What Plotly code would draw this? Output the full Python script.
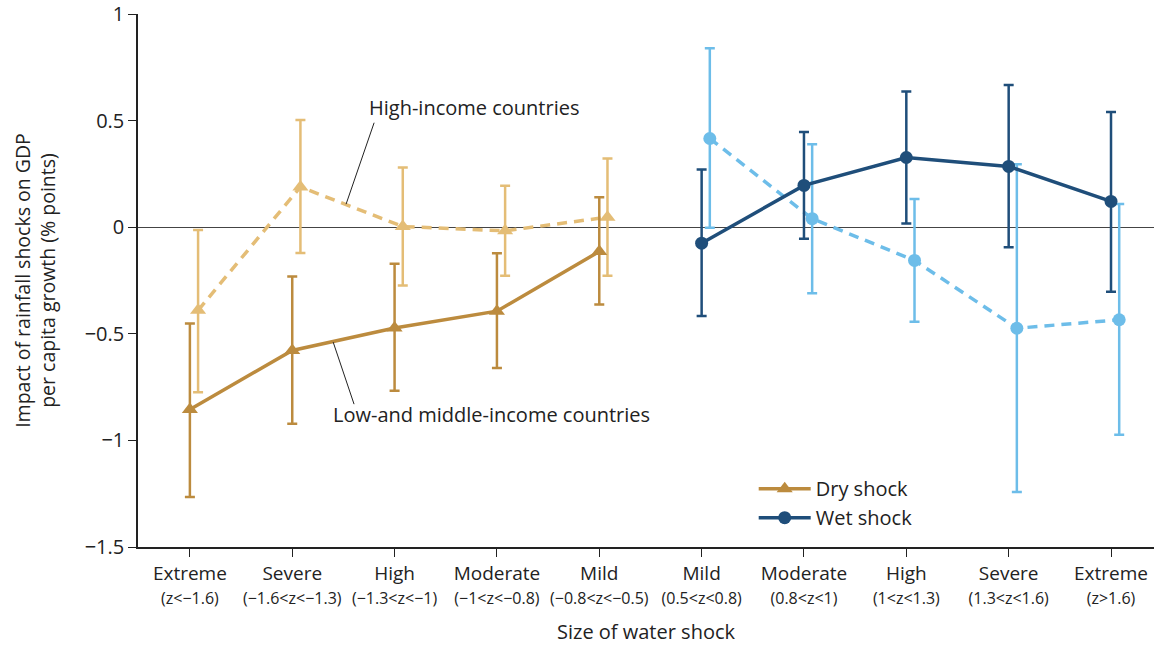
import plotly.graph_objects as go

# Shock size categories (dry on the left, wet on the right)
cat_names = ["Extreme", "Severe", "High", "Moderate", "Mild",
             "Mild", "Moderate", "High", "Severe", "Extreme"]
cat_ranges = ["(z<−1.6)", "(−1.6<z<−1.3)", "(−1.3<z<−1)", "(−1<z<−0.8)", "(−0.8<z<−0.5)",
              "(0.5<z<0.8)", "(0.8<z<1)", "(1<z<1.3)", "(1.3<z<1.6)", "(z>1.6)"]

dry_pos = [0, 1, 2, 3, 4]
wet_pos = [5, 6, 7, 8, 9]
hi_offset = 0.08  # high-income estimates drawn slightly to the right

# Dry shock, low- and middle-income countries
dry_lmic = [-0.855, -0.578, -0.473, -0.394, -0.114]
dry_lmic_lo = [-1.265, -0.922, -0.767, -0.660, -0.362]
dry_lmic_hi = [-0.452, -0.231, -0.171, -0.122, 0.141]

# Dry shock, high-income countries
dry_hic = [-0.390, 0.189, 0.003, -0.017, 0.047]
dry_hic_lo = [-0.774, -0.121, -0.273, -0.228, -0.228]
dry_hic_hi = [-0.013, 0.503, 0.280, 0.194, 0.322]

# Wet shock, low- and middle-income countries
wet_lmic = [-0.075, 0.196, 0.327, 0.285, 0.121]
wet_lmic_lo = [-0.417, -0.054, 0.017, -0.094, -0.303]
wet_lmic_hi = [0.271, 0.447, 0.637, 0.667, 0.540]

# Wet shock, high-income countries
wet_hic = [0.416, 0.040, -0.156, -0.474, -0.434]
wet_hic_lo = [-0.003, -0.310, -0.444, -1.242, -0.974]
wet_hic_hi = [0.839, 0.389, 0.132, 0.295, 0.109]

y_ticks = [1, 0.5, 0, -0.5, -1, -1.5]

BROWN = "#BC8B3E"
TAN = "#E4BD76"
NAVY = "#1F4E7A"
SKY = "#6DBDE9"

MAIN_FONT = "'Open Sans', Lato, sans-serif"


def err(vals, lo, hi):
    return dict(type="data", symmetric=False,
                array=[h - v for v, h in zip(vals, hi)],
                arrayminus=[v - l for v, l in zip(vals, lo)])


def series(xs, vals, lo, hi, color, symbol, dash, name, legend, offset=0.0):
    return go.Scatter(
        x=[x + offset for x in xs], y=vals, mode="lines+markers", name=name,
        showlegend=legend,
        line=dict(color=color, width=3.5, dash=dash),
        marker=dict(color=color, symbol=symbol, size=13 if symbol == "circle" else 14),
        error_y=dict(err(vals, lo, hi), color=color, thickness=2.5, width=5),
    )


fig = go.Figure()
fig.add_trace(series(dry_pos, dry_hic, dry_hic_lo, dry_hic_hi, TAN, "triangle-up",
                     "10px,7px", "Dry shock (high-income)", False, hi_offset))
fig.add_trace(series(wet_pos, wet_hic, wet_hic_lo, wet_hic_hi, SKY, "circle",
                     "10px,7px", "Wet shock (high-income)", False, hi_offset))
fig.add_trace(series(dry_pos, dry_lmic, dry_lmic_lo, dry_lmic_hi, BROWN, "triangle-up",
                     "solid", "Dry shock", True))
fig.add_trace(series(wet_pos, wet_lmic, wet_lmic_lo, wet_lmic_hi, NAVY, "circle",
                     "solid", "Wet shock", True))

# Series call-outs with leader lines
fig.add_annotation(x=2.78, y=0.563, text="High-income countries", showarrow=False,
                   font=dict(family=MAIN_FONT, size=20, color="#222"))
fig.add_shape(type="line", x0=1.526, y0=0.108, x1=1.80, y1=0.49,
              line=dict(color="#222", width=1))
fig.add_annotation(x=2.95, y=-0.877, text="Low-and middle-income countries", showarrow=False,
                   font=dict(family=MAIN_FONT, size=20, color="#222"))
fig.add_shape(type="line", x0=1.40, y0=-0.539, x1=1.604, y1=-0.83,
              line=dict(color="#222", width=1))

tick_text = [f"{n}<br><span style='font-size:16px'>{r}</span>"
             for n, r in zip(cat_names, cat_ranges)]

fig.update_layout(
    width=1154, height=645,
    margin=dict(l=138, r=0, t=14, b=98),
    plot_bgcolor="white", paper_bgcolor="white",
    font=dict(family=MAIN_FONT, color="#222"),
    showlegend=True,
    legend=dict(x=0.606, y=0.146, xanchor="left", yanchor="top",
                font=dict(family=MAIN_FONT, size=20, color="#222"),
                bgcolor="rgba(0,0,0,0)", itemwidth=52, tracegroupgap=0),
    xaxis=dict(
        range=[-0.507, 9.42], tickvals=list(range(10)), ticktext=tick_text,
        ticks="outside", ticklen=8, tickcolor="#222", tickwidth=1,
        showline=True, linecolor="#222", linewidth=1.5, showgrid=False, zeroline=False,
        tickfont=dict(family=MAIN_FONT, size=19, color="#222"),
        title=dict(text="Size of water shock", standoff=20,
                   font=dict(family=MAIN_FONT, size=20, color="#222")),
    ),
    yaxis=dict(
        range=[-1.5, 1], tickvals=y_ticks, ticks="outside", ticklen=8,
        tickcolor="#222", tickwidth=1,
        showline=True, linecolor="#222", linewidth=1.5, showgrid=False,
        zeroline=True, zerolinecolor="#444", zerolinewidth=1.2,
        tickfont=dict(family=MAIN_FONT, size=20, color="#222"),
        title=dict(text="Impact of rainfall shocks on GDP<br>per capita growth (% points)",
                   standoff=24, font=dict(family=MAIN_FONT, size=19.5, color="#222")),
    ),
)

fig.write_html("out.html")
